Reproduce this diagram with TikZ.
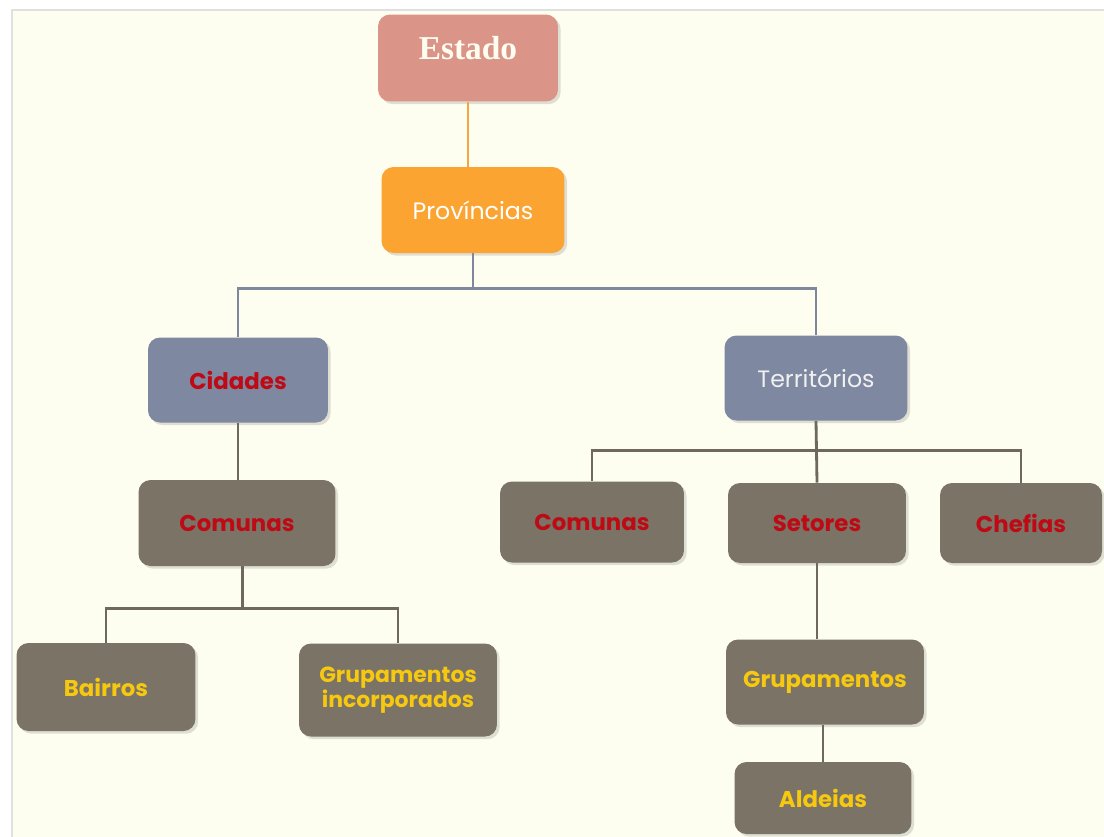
\documentclass[tikz,border=0pt]{standalone}
\usepackage{fontspec}
\newfontfamily\gothicfont{Poppins}
\newfontfamily\titlefont{Liberation Serif}
\usetikzlibrary{positioning}
\usetikzlibrary{shadows}

\definecolor{paper}{RGB}{254,254,240}
\definecolor{estadofill}{RGB}{219,148,136}
\definecolor{provfill}{RGB}{251,164,50}
\definecolor{bluefill}{RGB}{126,136,160}
\definecolor{greyfill}{RGB}{122,115,102}
\definecolor{redtext}{RGB}{190,10,20}
\definecolor{yellowtext}{RGB}{246,200,16}
\definecolor{orangeline}{RGB}{245,166,64}
\definecolor{blueline}{RGB}{128,134,156}
\definecolor{greyline}{RGB}{110,104,94}

\begin{document}
\begin{tikzpicture}[x=0.02cm,y=-0.02cm,
  box/.style={rounded corners=0.24cm,align=center,inner sep=2pt,
    drop shadow={opacity=0.25,shadow xshift=1.5pt,shadow yshift=-1.5pt},
    font=\gothicfont\fontsize{13.5}{14}\selectfont},
  level0/.style={box,fill=estadofill,text=paper,font=\titlefont\bfseries\fontsize{19}{20}\selectfont},
  level1/.style={box,fill=provfill,text=white},
  level2/.style={box,fill=bluefill},
  level3/.style={box,fill=greyfill,font=\gothicfont\bfseries\fontsize{13}{13}\selectfont},
  redlabel/.style={text=redtext},
  yellowlabel/.style={text=yellowtext},
  link/.style={line width=1.6pt}]
\useasboundingbox (0,0) rectangle (1104,836);
\fill[white] (0,0) rectangle (1104,836);
\filldraw[fill=paper,draw=black!12,line width=0.8pt] (12,10) rectangle (1110,840);

% top of the tree
\node[level0,minimum width=3.6cm,minimum height=1.74cm] (estado) at (468,58) {\raisebox{11pt}{Estado}};
\node[level1,minimum width=3.66cm,minimum height=1.72cm] (prov) at (473,210) {Províncias};

% second level
\node[level2,redlabel,font=\gothicfont\bfseries\fontsize{13}{13}\selectfont,
  minimum width=3.6cm,minimum height=1.7cm] (cid) at (238,380) {Cidades};
\node[level2,text=white!94!black,minimum width=3.66cm,minimum height=1.7cm] (ter) at (816,378) {Territórios};

% under Cidades
\node[level3,redlabel,minimum width=3.94cm,minimum height=1.72cm] (comL) at (237,523) {Comunas};
\node[level3,yellowlabel,minimum width=3.58cm,minimum height=1.76cm] (bai) at (106,687) {Bairros};
\node[level3,yellowlabel,font=\gothicfont\bfseries\fontsize{12.5}{14}\selectfont,
  minimum width=3.96cm,minimum height=1.86cm] (grpinc) at (398,690) {Grupamentos\\incorporados};

% under Territórios
\node[level3,redlabel,minimum width=3.68cm,minimum height=1.62cm] (comR) at (592,522) {Comunas};
\node[level3,redlabel,minimum width=3.56cm,minimum height=1.6cm] (set) at (817,523) {Setores};
\node[level3,redlabel,minimum width=3.24cm,minimum height=1.6cm] (chef) at (1021,523) {Chefias};
\node[level3,yellowlabel,minimum width=3.96cm,minimum height=1.7cm] (grp) at (825,682) {Grupamentos};
\node[level3,yellowlabel,minimum width=3.54cm,minimum height=1.44cm] (ald) at (823,798) {Aldeias};

% connectors
\draw[link,orangeline] (estado) -- (estado|-prov.north);
\draw[link,blueline] (prov.south) -- ++(0,35) -| (cid.north);
\draw[link,blueline] (prov.south) -- ++(0,35) -| (ter.north);
\draw[link,greyline] (cid) -- (cid|-comL.north);
\draw[link,greyline] ([xshift=3pt]comL.south) -- ++(0,42) -| (bai.north);
\draw[link,greyline] ([xshift=3pt]comL.south) -- ++(0,42) -| (grpinc.north);
\draw[link,greyline] (ter.south) -- ++(0,30) -| (comR.north);
\draw[link,greyline] (ter.south) -- (set.north);
\draw[link,greyline] (ter.south) -- ++(0,30) -| (chef.north);
\draw[link,greyline] (set.south) -- (set|-grp.north);
\draw[link,greyline] (grp.south-|ald) -- (ald.north);
\end{tikzpicture}
\end{document}
